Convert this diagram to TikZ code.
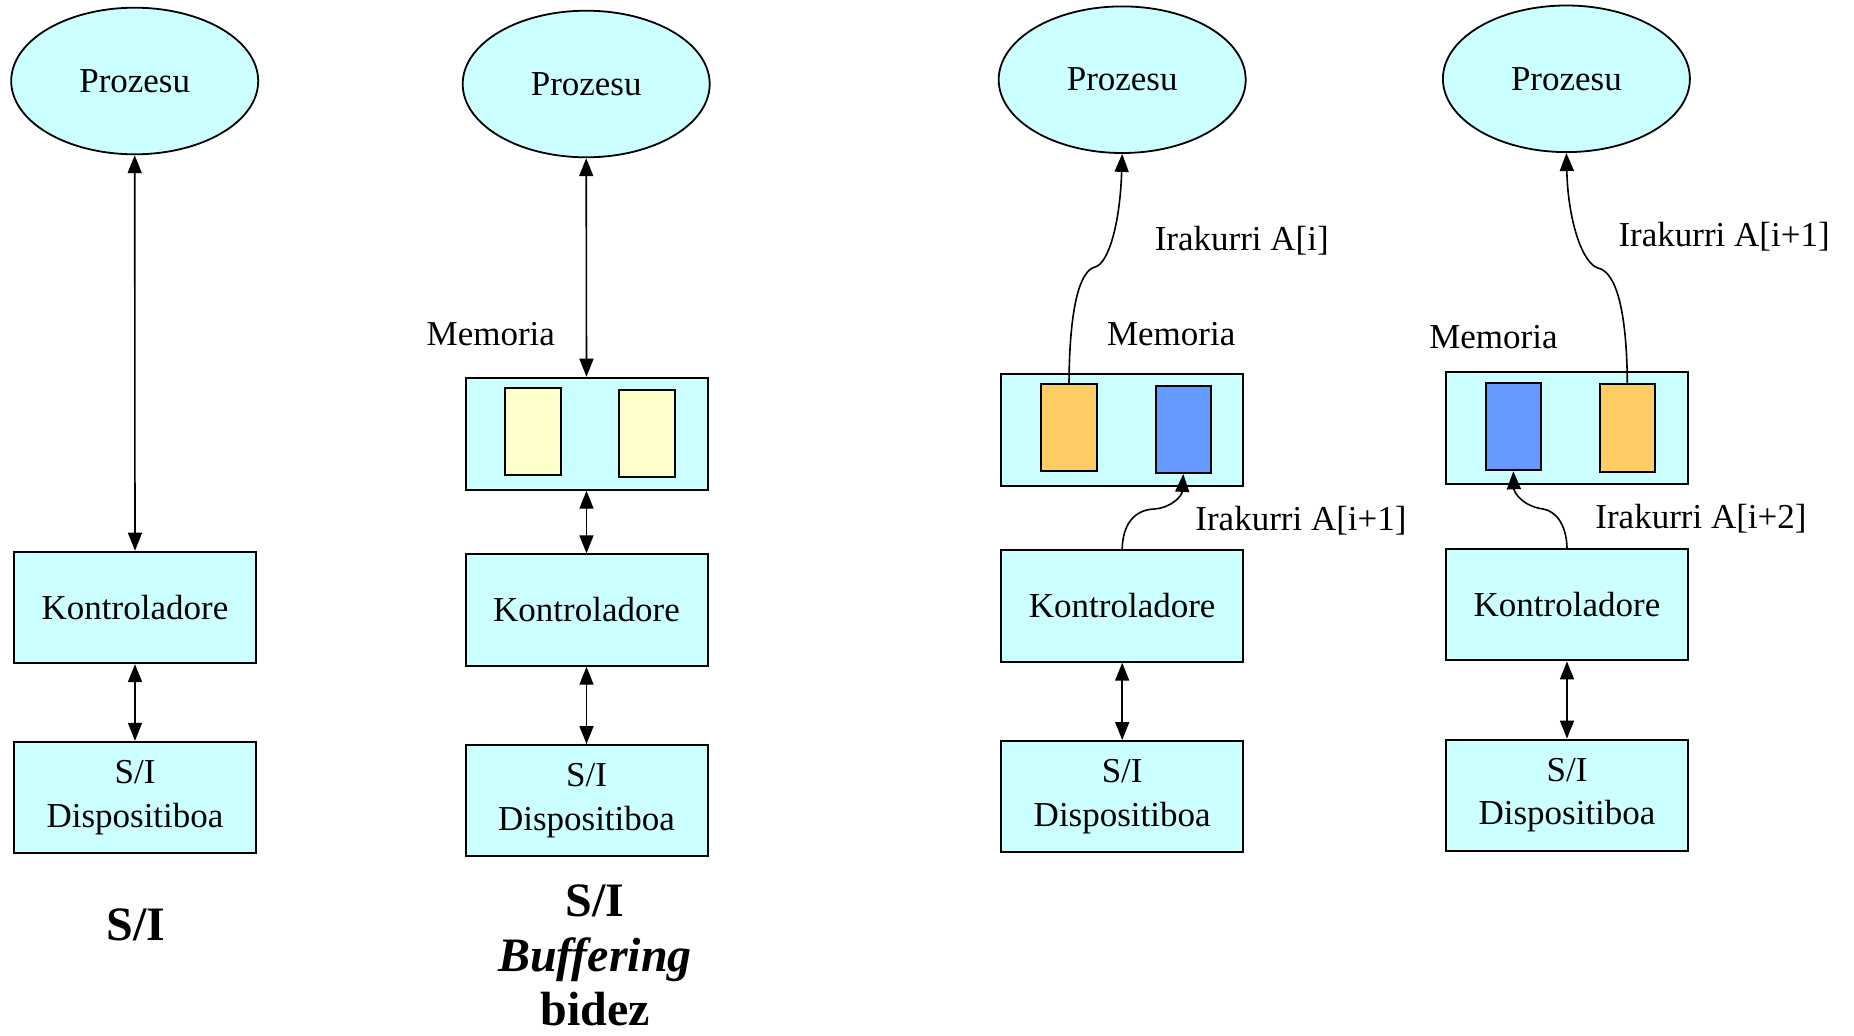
\documentclass[tikz,border=0pt]{standalone}
\usepackage{fontspec}
\setmainfont{Liberation Serif}
\usetikzlibrary{arrows.meta,shapes.geometric}
\definecolor{cyanfill}{HTML}{CCFFFF}
\definecolor{bufyellow}{HTML}{FFFFCC}
\definecolor{bufamber}{HTML}{FFCC66}
\definecolor{bufblue}{HTML}{6699FF}
\begin{document}
\begin{tikzpicture}[x=0.5pt,y=-0.5pt,
 proc/.style={ellipse, draw, line width=0.9pt, fill=cyanfill, minimum width=123.5pt, minimum height=73.3pt, inner sep=0pt, font=\fontsize{17.5}{21}\selectfont},
 unit/.style={rectangle, draw, line width=1pt, fill=cyanfill, minimum width=121pt, minimum height=55.7pt, inner sep=0pt, align=center, font=\fontsize{17.5}{21.8}\selectfont},
 membox/.style={rectangle, draw, line width=1pt, fill=cyanfill, minimum width=121pt, minimum height=56pt, inner sep=0pt},
 slot/.style={rectangle, draw, line width=1pt, minimum width=27.8pt, minimum height=43.6pt, inner sep=0pt},
 lbl/.style={font=\fontsize{17.5}{21}\selectfont, inner sep=0pt},
 ttl/.style={font=\fontsize{24}{28}\selectfont\bfseries, inner sep=0pt},
 link/.style={line width=0.8pt, {Triangle[length=9pt,width=7pt]}-{Triangle[length=9pt,width=7pt]}},
 flow/.style={line width=0.8pt, -{Triangle[length=9pt,width=7pt]}}
]
\useasboundingbox[fill=white] (0,0) rectangle (1854,1035);

% Column 1
\node[proc] (e1) at (134.7,81) {Prozesu};
\node[unit] (k1) at (135,607.4) {Kontroladore};
\node[unit] (d1) at (135,797.5) {S/I\\Dispositiboa};
\node[ttl, anchor=base] (t1) at (136,940) {S/I};
\draw[link] (e1.south) -- (k1.north);
\draw[link] (k1.south) -- (d1.north);

% Column 2
\node[proc] (e2) at (586.2,84) {Prozesu};
\node[lbl, anchor=base] (m2) at (490.8,345) {Memoria};
\node[membox] (b2) at (586.5,433.7) {};
\node[slot, fill=bufyellow] (s2a) at (532.8,431.8) {};
\node[slot, fill=bufyellow] (s2b) at (646.8,433.5) {};
\node[unit] (k2) at (586.5,610) {Kontroladore};
\node[unit] (d2) at (586.5,800.7) {S/I\\Dispositiboa};
\node[ttl, anchor=base] (t2a) at (595,916) {S/I};
\node[ttl, anchor=base] (t2b) at (595,971) {\itshape Buffering};
\node[ttl, anchor=base] (t2c) at (595,1025) {bidez};
\draw[link] (e2.south) -- (b2.north);
\draw[link] (b2.south) -- (k2.north);
\draw[link] (k2.south) -- (d2.north);

% Column 3
\node[proc] (e3) at (1122.2,79.7) {Prozesu};
\node[lbl, anchor=base] (m3) at (1171.2,345) {Memoria};
\node[membox] (b3) at (1122.2,429.7) {};
\node[slot, fill=bufamber] (s3a) at (1069,427.7) {};
\node[slot, fill=bufblue] (s3b) at (1183.3,429.3) {};
\node[unit] (k3) at (1122.2,606) {Kontroladore};
\node[unit] (d3) at (1122.2,796.7) {S/I\\Dispositiboa};
\node[lbl, anchor=base west] (r3a) at (1154.4,250) {Irakurri A[i]};
\node[lbl, anchor=base west] (r3b) at (1195,530) {Irakurri A[i+1]};
\coordinate (c3a) at (1095,267);
\coordinate (c3b) at (1154,509);
\draw[flow] (s3a.north) .. controls (1069.5,310) and (1079,271) .. (c3a)
  .. controls (1108,264) and (1120,225) .. (e3.south);
\draw[flow] (k3.north) .. controls (1122.5,526) and (1133,510) .. (c3b)
  .. controls (1171,508) and (1182,496) .. (s3b.south);
\draw[link] (k3.south) -- (d3.north);

% Column 4
\node[proc] (e4) at (1566.4,78.8) {Prozesu};
\node[lbl, anchor=base] (m4) at (1493.4,348) {Memoria};
\node[membox] (b4) at (1566.7,428.2) {};
\node[slot, fill=bufblue] (s4a) at (1513.3,426.7) {};
\node[slot, fill=bufamber] (s4b) at (1627.3,428) {};
\node[unit] (k4) at (1567,604.7) {Kontroladore};
\node[unit] (d4) at (1567,795.3) {S/I\\Dispositiboa};
\node[lbl, anchor=base west] (r4a) at (1618.1,246) {Irakurri A[i+1]};
\node[lbl, anchor=base west] (r4b) at (1595,528) {Irakurri A[i+2]};
\coordinate (c4a) at (1598,268);
\coordinate (c4b) at (1543,509);
\draw[flow] (s4b.north) .. controls (1626.8,310) and (1616,272) .. (c4a)
  .. controls (1583,264) and (1568,222) .. (e4.south);
\draw[flow] (k4.north) .. controls (1566.5,525) and (1556,511) .. (c4b)
  .. controls (1522,506) and (1514,492) .. (s4a.south);
\draw[link] (k4.south) -- (d4.north);
\end{tikzpicture}
\end{document}
